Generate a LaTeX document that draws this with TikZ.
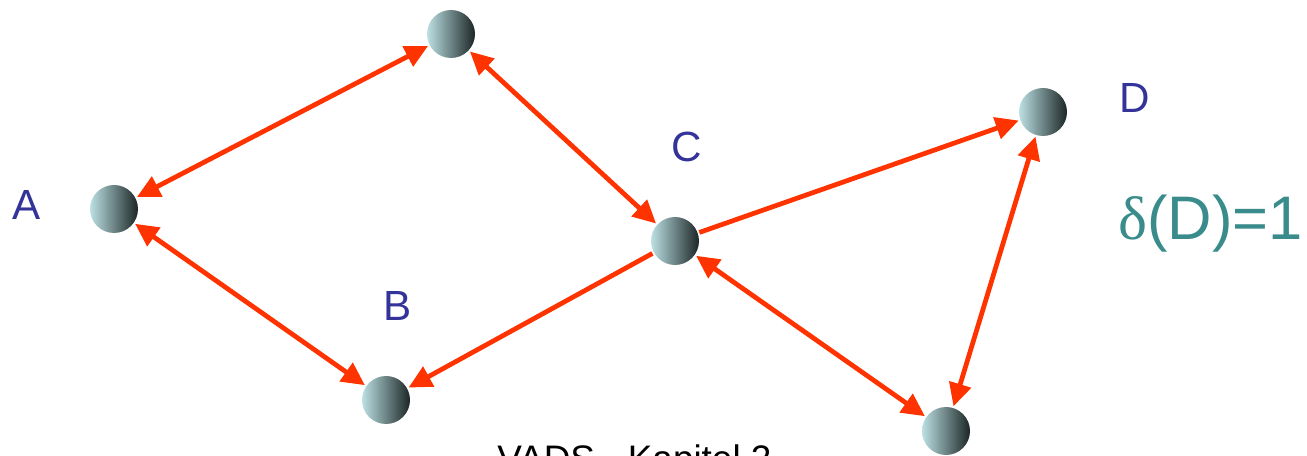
\documentclass[tikz,border=0pt]{standalone}
\usepackage{fontspec}
\setmainfont{Liberation Sans}
\newfontfamily\greekfont{Liberation Serif}
\usetikzlibrary{arrows.meta}

\definecolor{linkred}{HTML}{FF3300}
\definecolor{labelblue}{HTML}{333399}
\definecolor{degteal}{HTML}{3A8C8C}
\definecolor{balllight}{HTML}{BCE0E3}
\definecolor{balldark}{HTML}{1C2626}

\tikzset{
    ball/.style={circle, minimum size=0.96cm, inner sep=0pt, outer sep=1pt,
        left color=balllight, right color=balldark, shading angle=90},
    link/.style={linkred, line width=0.095cm,
        arrows={-Triangle[length=0.46cm, width=0.44cm]}},
    biglink/.style={link, arrows={Triangle[length=0.46cm, width=0.44cm]-Triangle[length=0.46cm, width=0.44cm]}},
    lbl/.style={labelblue, font=\fontsize{24}{28}\selectfont}
}

\begin{document}
\begin{tikzpicture}
    \useasboundingbox (0, 0) rectangle (26.14, 9.12);

    % Vertices
    \node[ball] (top) at (9.02, 8.44) {};
    \node[ball] (a) at (2.28, 4.94) {};
    \node[ball] (b) at (7.72, 1.12) {};
    \node[ball] (c) at (13.50, 4.30) {};
    \node[ball] (d) at (20.86, 6.88) {};
    \node[ball] (e) at (18.92, 0.50) {};

    % Labels
    \node[lbl] (la) at (0.54, 5.02) {A};
    \node[lbl] (lb) at (7.96, 3.00) {B};
    \node[lbl] (lc) at (13.74, 6.18) {C};
    \node[lbl] (ld) at (22.70, 7.16) {D};
    \node[degteal, anchor=west, inner sep=0pt, font=\fontsize{35}{40}\selectfont] (deg) at (22.36, 4.64) {{\greekfont δ}(D)=1};

    % Edges
    \draw[biglink] (a) -- (top);
    \draw[biglink] (top) -- (c);
    \draw[biglink] (a) -- (b);
    \draw[link] (c) -- (b);
    \draw[link] (c) -- (d);
    \draw[biglink] (c) -- (e);
    \draw[biglink] (d) -- (e);

    % Footer
    \node[anchor=north west, inner sep=0pt, font=\fontsize{21}{25}\selectfont] (foot) at (9.94, 0.24) {VADS - Kapitel 2};
\end{tikzpicture}
\end{document}
